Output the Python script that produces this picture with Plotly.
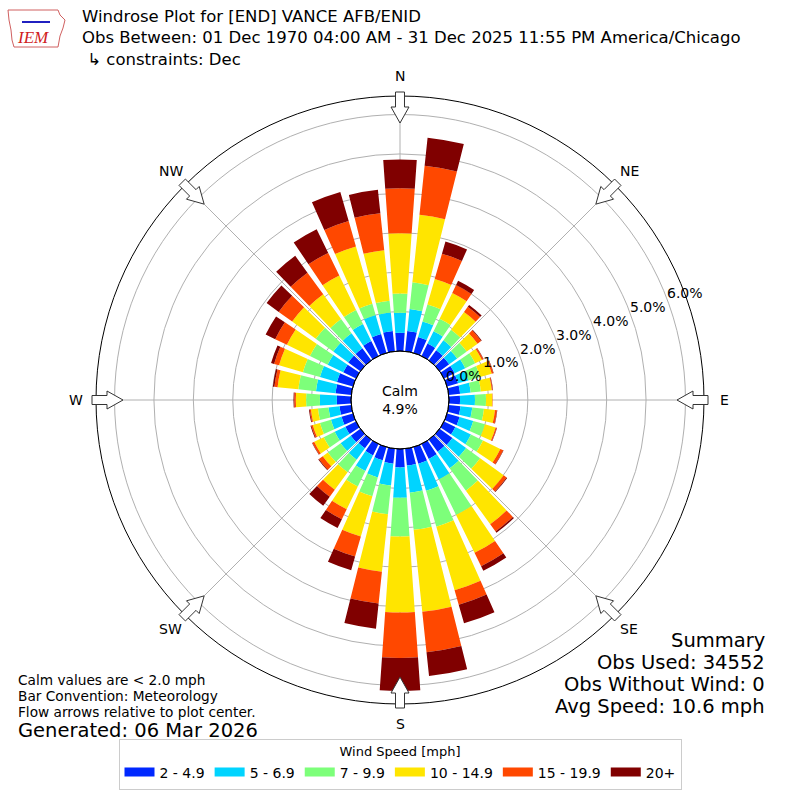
import math
import plotly.graph_objects as go

directions = list(range(0, 360, 10))
speed_bins = ['2 - 4.9', '5 - 6.9', '7 - 9.9', '10 - 14.9', '15 - 19.9', '20+']
bin_colors = ['#0028ff', '#00d4ff', '#7dff7a', '#ffe500', '#ff4800', '#800000']

pct_2_5 = [0.46, 0.52, 0.42, 0.35, 0.32, 0.30, 0.30, 0.29, 0.29, 0.28, 0.30, 0.33,
           0.32, 0.40, 0.38, 0.42, 0.44, 0.43, 0.47, 0.38, 0.35, 0.32, 0.27, 0.30,
           0.30, 0.30, 0.30, 0.36, 0.40, 0.42, 0.36, 0.38, 0.38, 0.42, 0.50, 0.52]
pct_5_7 = [0.51, 0.56, 0.41, 0.35, 0.31, 0.25, 0.30, 0.27, 0.27, 0.38, 0.30, 0.36,
           0.44, 0.43, 0.52, 0.58, 0.71, 0.69, 0.77, 0.56, 0.45, 0.44, 0.36, 0.32,
           0.30, 0.28, 0.28, 0.43, 0.50, 0.45, 0.44, 0.47, 0.47, 0.48, 0.50, 0.47]
pct_7_10 = [0.49, 0.68, 0.45, 0.35, 0.33, 0.30, 0.28, 0.31, 0.26, 0.28, 0.30, 0.31,
            0.34, 0.44, 0.70, 1.00, 0.95, 0.95, 0.98, 0.73, 0.50, 0.44, 0.39, 0.40,
            0.31, 0.29, 0.27, 0.35, 0.45, 0.45, 0.50, 0.55, 0.45, 0.40, 0.30, 0.30]
pct_10_15 = [1.53, 1.72, 0.67, 0.73, 0.56, 0.34, 0.19, 0.31, 0.28, 0.16, 0.28, 0.28,
             0.49, 0.74, 1.05, 1.07, 1.68, 2.09, 1.93, 1.47, 1.06, 0.64, 0.55, 0.16,
             0.27, 0.19, 0.18, 0.26, 0.53, 0.63, 0.65, 0.74, 0.77, 0.97, 1.51, 1.29]
pct_15_20 = [1.14, 1.25, 0.67, 0.22, 0.16, 0.11, 0.04, 0.04, 0.02, 0.01, 0.05, 0.03,
             0.08, 0.09, 0.23, 0.38, 0.38, 1.03, 1.15, 0.81, 0.53, 0.28, 0.22, 0.12,
             0.05, 0.04, 0.03, 0.04, 0.08, 0.13, 0.33, 0.42, 0.68, 0.64, 0.67, 0.94]
pct_20_up = [0.73, 0.72, 0.32, 0.12, 0.06, 0.02, 0.01, 0.01, 0.01, 0.00, 0.01, 0.01,
             0.01, 0.02, 0.04, 0.13, 0.49, 0.61, 0.84, 0.64, 0.36, 0.25, 0.28, 0.02,
             0.01, 0.02, 0.02, 0.02, 0.04, 0.08, 0.27, 0.38, 0.53, 0.67, 0.77, 0.60]
bin_values = [pct_2_5, pct_5_7, pct_7_10, pct_10_15, pct_15_20, pct_20_up]

ring_ticks = [0, 1, 2, 3, 4, 5, 6]
compass = ['N', 'NE', 'E', 'SE', 'S', 'SW', 'W', 'NW']

calm_pct = 4.9
summary_lines = ['Summary', 'Obs Used: 34552', 'Obs Without Wind: 0', 'Avg Speed: 10.6 mph']
notes = ['Calm values are < 2.0 mph', 'Bar Convention: Meteorology',
         'Flow arrows relative to plot center.']
title_lines = ['Windrose Plot for [END] VANCE AFB/ENID',
               'Obs Between: 01 Dec 1970 04:00 AM - 31 Dec 2025 11:55 PM America/Chicago',
               ' \u21b3 constraints: Dec']

# --- geometry (pixels on the 800x800 canvas) ---
W = H = 800
R_OUT = 304.0
R_HOLE = 49.0
R_MAX = 6.47
FONT = 'DejaVu Sans'


def px(x, y):
    return x / W, 1 - y / H


def polar_px(bearing, r):
    b = math.radians(bearing)
    return 400 + r * math.sin(b), 400 - r * math.cos(b)


def label(x, y, text, size, xanchor='center', yanchor='middle', **kw):
    xp, yp = px(x, y)
    return dict(x=xp, y=yp, xref='paper', yref='paper', text=text, showarrow=False,
                xanchor=xanchor, yanchor=yanchor, align=kw.get('align', 'center'),
                font=dict(size=size, family=kw.get('family', FONT), color=kw.get('color', 'black')))


fig = go.Figure()

for name, vals, color in zip(speed_bins, bin_values, bin_colors):
    fig.add_trace(go.Barpolar(
        r=vals,
        theta=directions,
        width=8,
        name=name,
        showlegend=False,
        marker=dict(color=color, line=dict(width=0)),
    ))

# legend entries drawn as wide colour patches
for name, color in zip(speed_bins, bin_colors):
    fig.add_trace(go.Scatterpolar(
        r=[None], theta=[None], mode='lines', name=name,
        line=dict(color=color, width=9),
    ))

annotations = []
shapes = []

# compass labels and inward arrows
for i, lab in enumerate(compass):
    b = i * 45
    x, y = polar_px(b, 324)
    annotations.append(label(x, y, lab, 14))
    pts = []
    rad = math.radians(b)
    for r, off in [(308, -4.5), (293, -4.5), (293, -9), (277, 0), (293, 9), (293, 4.5), (308, 4.5)]:
        bx, by = polar_px(b, r)
        bx += off * math.cos(rad)
        by += off * math.sin(rad)
        pts.append(px(bx, by))
    path = 'M ' + ' L '.join(f'{p[0]:.5f},{p[1]:.5f}' for p in pts) + ' Z'
    shapes.append(dict(type='path', path=path, xref='paper', yref='paper',
                       fillcolor='white', line=dict(color='#333333', width=1)))

# radial percent labels
ring_step = (R_OUT - R_HOLE) / R_MAX
for k in ring_ticks:
    x, y = polar_px(69.5, R_HOLE + k * ring_step + 19)
    annotations.append(label(x, y, f'{k:.1f}%', 14))

# calm circle
x0, y0 = px(400 - R_HOLE, 400 + R_HOLE)
x1, y1 = px(400 + R_HOLE, 400 - R_HOLE)
shapes.append(dict(type='circle', xref='paper', yref='paper', x0=x0, y0=y0, x1=x1, y1=y1,
                   line=dict(color='black', width=1), layer='above'))
annotations.append(label(400, 400, f'Calm<br>{calm_pct}%', 14))

# title block
annotations.append(label(80, 38, '<br>'.join(title_lines), 16.5, xanchor='left', align='left'))

# IEM logo (rough)
logo = [(8, 10), (58, 10), (60, 15), (65, 20), (63, 28), (60, 36), (58, 47),
        (14, 47), (12, 40), (11, 30), (9, 20)]
path = 'M ' + ' L '.join('{:.5f},{:.5f}'.format(*px(*p)) for p in logo) + ' Z'
shapes.append(dict(type='path', path=path, xref='paper', yref='paper',
                   line=dict(color='#d06060', width=1)))
shapes.append(dict(type='line', xref='paper', yref='paper',
                   x0=px(22, 22)[0], y0=px(22, 22)[1], x1=px(50, 22)[0], y1=px(50, 22)[1],
                   line=dict(color='#2020c0', width=2)))
annotations.append(label(33, 38, '<i>IEM</i>', 17, family='Liberation Serif', color='#d02020'))

# bottom left notes
for i, t in enumerate(notes):
    annotations.append(label(16, 680 + i * 16, t, 13.7, xanchor='left'))
annotations.append(label(16, 730, 'Generated: 06 Mar 2026', 19.5, xanchor='left'))

# summary
for i, t in enumerate(summary_lines):
    annotations.append(label(767, 640 + i * 22, t, 19.5, xanchor='right'))

fig.update_layout(
    width=W, height=H,
    margin=dict(l=0, r=0, t=0, b=0),
    paper_bgcolor='white',
    font=dict(family=FONT, color='black'),
    polar=dict(
        domain=dict(x=[0.12, 0.88], y=[0.12, 0.88]),
        hole=R_HOLE / R_OUT,
        bgcolor='white',
        barmode='stack',
        angularaxis=dict(
            direction='clockwise', rotation=90,
            tickmode='array', tickvals=[0, 45, 90, 135, 180, 225, 270, 315],
            showticklabels=False, ticks='',
            showgrid=True, gridcolor='#b0b0b0', gridwidth=1,
            showline=True, linecolor='black', linewidth=1,
            layer='above traces',
        ),
        radialaxis=dict(
            range=[0, R_MAX],
            tickmode='array', tickvals=ring_ticks[1:],
            showticklabels=False, ticks='', showline=False,
            showgrid=True, gridcolor='#b0b0b0', gridwidth=1,
            layer='above traces',
        ),
    ),
    legend=dict(
        orientation='h', x=0.5, xanchor='center', y=0.013, yanchor='bottom',
        bordercolor='#cccccc', borderwidth=1, bgcolor='white',
        font=dict(size=14, family=FONT),
        title=dict(text='Wind Speed [mph]', side='top center', font=dict(size=13, family=FONT)),
        traceorder='normal', itemwidth=30,
    ),
    annotations=annotations,
    shapes=shapes,
)

fig.write_html('out.html', config={'displayModeBar': False},
               post_script="document.body.style.margin='0';document.body.style.overflow='hidden';")
